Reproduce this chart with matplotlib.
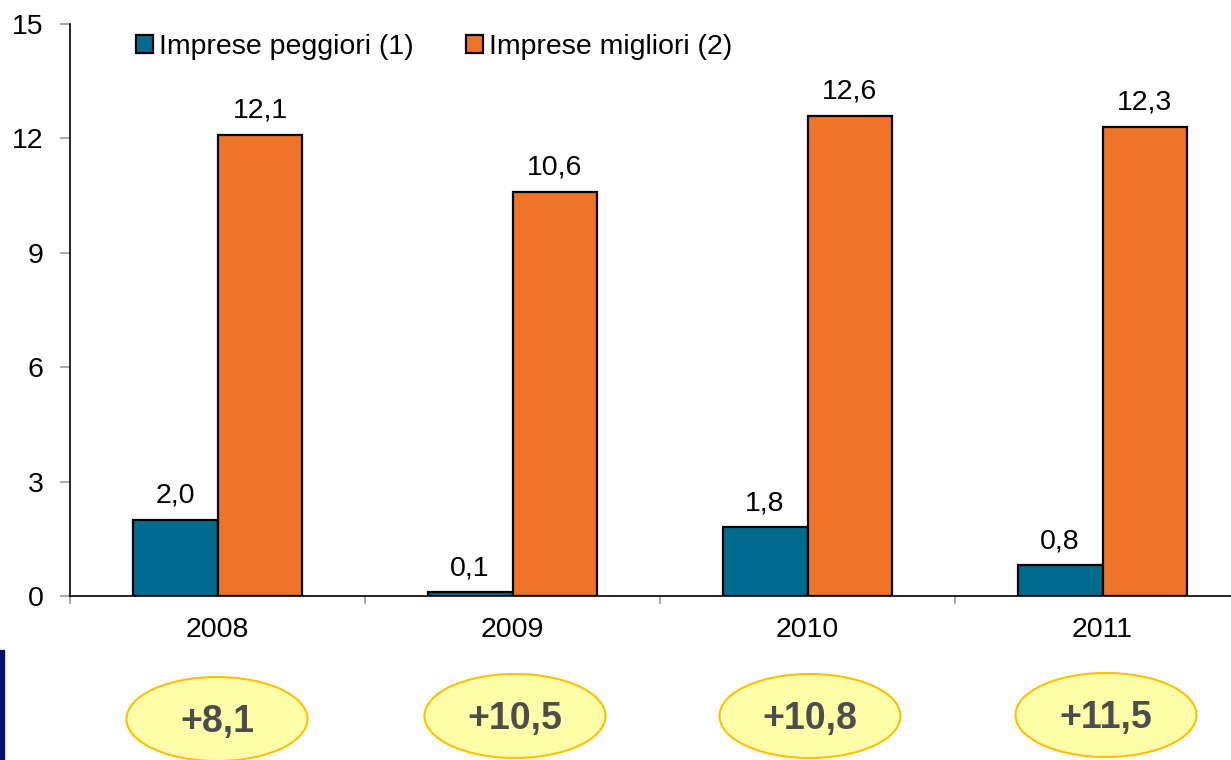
import matplotlib.pyplot as plt
import numpy as np
from matplotlib.patches import Ellipse, Rectangle

plt.rcParams['font.family'] = ['Liberation Sans', 'DejaVu Sans']

# Data
years = ['2008', '2009', '2010', '2011']
peggiori = [2.0, 0.1, 1.8, 0.8]
migliori = [12.1, 10.6, 12.6, 12.3]
differenze = ['+8,1', '+10,5', '+10,8', '+11,5']
serie = ['Imprese peggiori (1)', 'Imprese migliori (2)']

col_blue = '#006A8F'
col_orange = '#F07427'

W, H = 1231, 760
fig = plt.figure(figsize=(W / 100, H / 100), dpi=100)

# main axes (right edge runs past the figure like the original)
ax = fig.add_axes([70 / W, (H - 596) / H, 1180 / W, 572 / H])
x = np.arange(len(years))
bw = 0.288
b1 = ax.bar(x - bw / 2, peggiori, bw, color=col_blue, edgecolor='black', linewidth=1.6, label=serie[0])
b2 = ax.bar(x + bw / 2, migliori, bw, color=col_orange, edgecolor='black', linewidth=1.6, label=serie[1])

for bars, vals in ((b1, peggiori), (b2, migliori)):
    for r, v in zip(bars, vals):
        ax.annotate(f'{v:.1f}'.replace('.', ','), (r.get_x() + r.get_width() / 2, v),
                    xytext=(0, 8), textcoords='offset points', ha='center', va='bottom',
                    fontsize=20.5)

ax.set_xlim(-0.5, 3.5)
ax.set_ylim(0, 15)
ax.set_yticks([0, 3, 6, 9, 12, 15])
ax.tick_params(axis='y', labelsize=20.5, color='#999999', length=7, width=1.2, pad=12)
ax.set_xticks(x)
ax.set_xticklabels(years)
ax.set_xticks(np.arange(-0.5, 4, 1), minor=True)
ax.tick_params(axis='x', which='major', length=0, labelsize=20.5, pad=15)
ax.tick_params(axis='x', which='minor', length=6, color='#999999', width=1.2)
for s in ('top', 'right'):
    ax.spines[s].set_visible(False)
ax.spines['left'].set_linewidth(1.2)
ax.spines['bottom'].set_linewidth(1.2)

leg = ax.legend(loc='upper left', bbox_to_anchor=(0.034, 1.028), ncol=2, frameon=False,
                fontsize=20.5, handlelength=0.6, handleheight=0.6, handletextpad=0.2,
                columnspacing=1.85)

# overlay in pixel coordinates for the ellipses and the side bar
ov = fig.add_axes([0, 0, 1, 1], zorder=-1)
ov.set_xlim(0, W)
ov.set_ylim(H, 0)
ov.axis('off')
ov.add_patch(Rectangle((0, 650), 4, 110, color='#0D0D6B'))

cx = [217, 515, 810, 1106]
cy = [719, 716, 716, 715]
for c, yy, t in zip(cx, cy, differenze):
    ov.add_patch(Ellipse((c, yy), 181, 84, facecolor='#FFFFAA', edgecolor='#FFC000', linewidth=1.5))
    ov.text(c, yy + 3, t, ha='center', va='center', fontsize=27, fontweight='bold', color='#4D4D4D')

fig.savefig('out.png', dpi=100)
